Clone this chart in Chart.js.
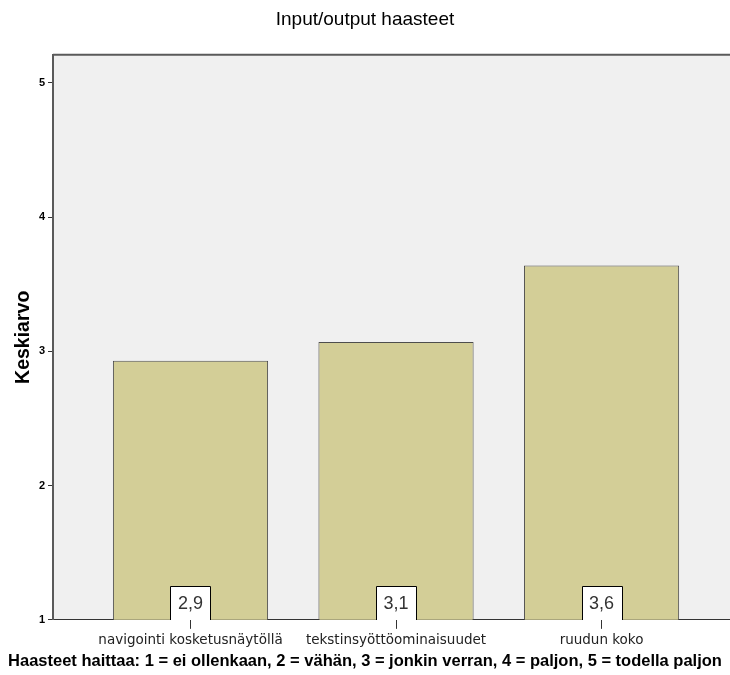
<!DOCTYPE html>
<html>
<head>
<meta charset="utf-8">
<script src="https://cdn.jsdelivr.net/npm/chart.js@4/dist/chart.umd.min.js"></script>
<style>
  html, body { margin: 0; padding: 0; background: #ffffff; }
  #wrap { width: 730px; height: 675px; }
</style>
</head>
<body>
<div id="wrap"><canvas id="c" width="730" height="675"></canvas></div>
<script>
// Mean ratings of input/output challenges
const categories = ['navigointi kosketusnäytöllä', 'tekstinsyöttöominaisuudet', 'ruudun koko'];
const means = [2.93, 3.07, 3.64];
const yTicks = [1, 2, 3, 4, 5];

const chartTitle = 'Input/output haasteet';
const yTitle = 'Keskiarvo';
const xTitle = 'Haasteet haittaa: 1 = ei ollenkaan, 2 = vähän, 3 = jonkin verran, 4 = paljon, 5 = todella paljon';

const SANS = 'Arial, "Liberation Sans", sans-serif';

function fmt(v) {
  return v.toFixed(1).replace('.', ',');
}

// Plot background and top frame line
const plotFrame = {
  id: 'plotFrame',
  beforeDraw(chart) {
    const { ctx, chartArea: a } = chart;
    ctx.save();
    ctx.fillStyle = '#f0f0f0';
    ctx.fillRect(a.left, a.top, a.right - a.left, a.bottom - a.top);
    ctx.strokeStyle = '#5a5a5a';
    ctx.lineWidth = 2;
    ctx.beginPath();
    ctx.moveTo(a.left, a.top);
    ctx.lineTo(a.right, a.top);
    ctx.stroke();
    ctx.restore();
  }
};

// Boxed mean labels at the foot of each bar
const meanLabels = {
  id: 'meanLabels',
  afterDraw(chart) {
    const { ctx } = chart;
    const yScale = chart.scales.y;
    const meta = chart.getDatasetMeta(0);
    const yb = Math.round(yScale.getPixelForValue(yScale.min));
    ctx.save();
    meta.data.forEach((bar, i) => {
      const w = 40, h = 34;
      const x0 = Math.round(bar.x - w / 2) + 0.5;
      const y0 = yb - h + 0.5;
      ctx.fillStyle = '#ffffff';
      ctx.fillRect(x0, y0, w, yb - y0);
      ctx.strokeStyle = '#000000';
      ctx.lineWidth = 1;
      ctx.beginPath();
      ctx.moveTo(x0, yb);
      ctx.lineTo(x0, y0);
      ctx.lineTo(x0 + w, y0);
      ctx.lineTo(x0 + w, yb);
      ctx.stroke();
      ctx.fillStyle = '#333333';
      ctx.font = '18px ' + SANS;
      ctx.textAlign = 'center';
      ctx.textBaseline = 'middle';
      ctx.fillText(fmt(means[i]), bar.x, yb - h / 2 + 1);
    });
    ctx.restore();
  }
};

new Chart(document.getElementById('c'), {
  type: 'bar',
  data: {
    datasets: [{
      data: means.map((v, i) => ({ x: i, y: v })),
      backgroundColor: '#d3ce97',
      borderColor: '#4d4d4d',
      borderWidth: 1,
      borderSkipped: 'bottom',
      categoryPercentage: 1,
      barPercentage: 0.755
    }]
  },
  options: {
    responsive: false,
    animation: false,
    events: [],
    layout: { padding: { left: 0, right: 0, top: 0, bottom: 0 } },
    plugins: {
      legend: { display: false },
      tooltip: { enabled: false },
      title: {
        display: true,
        text: chartTitle,
        color: '#000000',
        font: { family: SANS, size: 19, weight: 'normal' },
        padding: { top: 8, bottom: 24 }
      },
      subtitle: {
        display: true,
        position: 'bottom',
        text: xTitle,
        color: '#000000',
        font: { family: SANS, size: 16.5, weight: 'bold', lineHeight: 1.1 },
        padding: { top: 0, bottom: 4 }
      }
    },
    scales: {
      x: {
        type: 'linear',
        min: -0.669,
        max: 2.625,
        offset: false,
        afterBuildTicks(scale) {
          scale.ticks = categories.map((_, i) => ({ value: i }));
        },
        afterFit(scale) { scale.height = 33; },
        ticks: {
          autoSkip: false,
          maxRotation: 0,
          padding: 4,
          color: '#222222',
          font: { family: '"DejaVu Sans", sans-serif', size: 13.5 },
          callback: (v) => categories[v]
        },
        grid: {
          offset: false,
          drawOnChartArea: false,
          drawTicks: true,
          tickLength: 9,
          color: '#333333'
        },
        border: { display: true, color: '#333333', width: 1 }
      },
      y: {
        type: 'linear',
        min: 1,
        max: 5.21,
        afterBuildTicks(scale) {
          scale.ticks = yTicks.map(v => ({ value: v }));
        },
        afterFit(scale) { scale.width = 53; },
        ticks: {
          padding: 3,
          color: '#000000',
          font: { family: SANS, size: 11, weight: 'bold' }
        },
        grid: {
          drawOnChartArea: false,
          drawTicks: true,
          tickLength: 5,
          color: '#333333'
        },
        border: { display: true, color: '#5a5a5a', width: 2 },
        title: {
          display: true,
          text: yTitle,
          color: '#000000',
          font: { family: SANS, size: 19.5, weight: 'bold' },
          padding: { top: 12, bottom: 0 }
        }
      }
    }
  },
  plugins: [plotFrame, meanLabels]
});
</script>
</body>
</html>
